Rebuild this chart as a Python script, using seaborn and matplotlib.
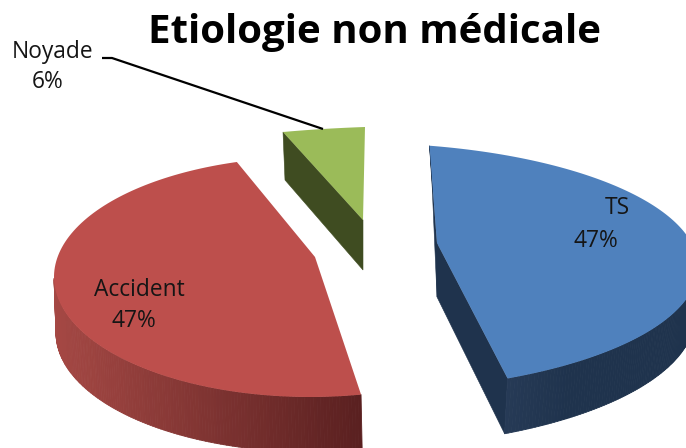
import numpy as np
import matplotlib
matplotlib.use("Agg")
import matplotlib.pyplot as plt
from matplotlib.collections import PolyCollection
from matplotlib.path import Path
from matplotlib.transforms import Transform
import seaborn as sns

title = "Etiologie non médicale"
labels = ["TS", "Accident", "Noyade"]
values = [47, 47, 6]
face_colors = ["#4f81bd", "#bd4f4c", "#9bbb59"]
wall_light = ["#263a56", "#a54844", "#3f4c21"]
wall_dark = ["#1f334d", "#5a2020", "#3f4c21"]

# Perspective layout in image pixels: apex and the ellipse each rim lies on
# (cx, cy, a, b, first angle, last angle)
top_apex = [(437, 243), (315, 257), (363, 220)]
bottom_apex = [(437, 297), (316, 312), (363, 270)]
top_rim = [(359, 267, 339, 124, -64, 78), (310, 277, 256, 120, 106.6, 281.5), None]
bottom_rim = [(356, 316, 339, 131, -64, 77), (312, 333, 256, 119, 106.6, 281.3), None]
top_small = [None, None, [(365, 127), (323, 129), (283, 132)]]
bottom_small = [None, None, [(365, 177), (323, 178), (285, 180)]]
draw_outer = [True, True, False]
draw_sides = [(True, True), (False, False), (False, True)]
name_pos = [(617, 208), (139, 290), (53, 52)]
pct_pos = [(596, 241), (134, 321), (48, 82)]
leader = ([102, 112, 323], [58, 58, 129])


class Homography(Transform):
    input_dims = output_dims = 2
    is_affine = False
    has_inverse = False

    def __init__(self, src, dst, apex):
        super().__init__()
        self.apex = apex
        A, b = [], []
        for (x, y), (u, v) in zip(src, dst):
            A.append([x, y, 1, 0, 0, 0, -u * x, -u * y])
            A.append([0, 0, 0, x, y, 1, -v * x, -v * y])
            b += [u, v]
        self.m = np.append(np.linalg.solve(np.array(A, float), np.array(b, float)), 1).reshape(3, 3)

    def transform_non_affine(self, values):
        values = np.asarray(values, float)
        p = np.column_stack([values, np.ones(len(values))]) @ self.m.T
        out = p[:, :2] / p[:, 2:]
        out[np.hypot(values[:, 0], values[:, 1]) < 1e-9] = self.apex
        return out

    def transform_path_non_affine(self, path):
        # Flatten the pie's curves first, so the rim stays on its ellipse
        poly = Path(path.vertices * 1000, path.codes).to_polygons(closed_only=False)[0] / 1000
        return Path(self.transform_non_affine(poly))


def unit(deg):
    r = np.radians(deg)
    return np.column_stack([np.cos(r), np.sin(r)])


def projection(t1, t2, rim, small, apex):
    if rim is None:
        src = np.vstack([[0, 0], unit(np.linspace(t1, t2, 3))])
        return Homography(src, [apex] + small, apex)
    cx, cy, a, b, p1, p2 = rim
    ts = np.linspace(t1, t2, 4)
    pm, ph = (p1 + p2) / 2, (p2 - p1) / 2
    tm, th = (t1 + t2) / 2, (t2 - t1) / 2
    k = np.tan(np.radians(ph / 2)) / np.tan(np.radians(th / 2))
    phi = pm + 2 * np.degrees(np.arctan(k * np.tan(np.radians(ts - tm) / 2)))
    r = np.radians(phi)
    dst = np.column_stack([cx + a * np.cos(r), cy - b * np.sin(r)])
    return Homography(unit(ts), dst, apex)


sns.set_theme(style="white")
plt.rcParams["font.family"] = ["Open Sans", "DejaVu Sans"]

fig = plt.figure(figsize=(6.86, 4.48), dpi=100, facecolor="white")
ax = fig.add_axes([0, 0, 1, 1])
wedges, _ = ax.pie(values, startangle=90, counterclock=False, colors=face_colors,
                   wedgeprops={"linewidth": 0, "zorder": 5})
ax.set_aspect("auto")
ax.set_xlim(0, 686)
ax.set_ylim(448, 0)
ax.axis("off")

for i, w in enumerate(wedges):
    t1, t2 = w.theta1, w.theta2
    top = projection(t1, t2, top_rim[i], top_small[i], top_apex[i])
    bot = projection(t1, t2, bottom_rim[i], bottom_small[i], bottom_apex[i])
    w.set_transform(top + ax.transData)

    if draw_outer[i]:
        ts = np.linspace(t1, t2, 241)
        a, b = top.transform(unit(ts)), bot.transform(unit(ts))
        xs = a[:-1, 0]
        frac = (xs - xs.min()) / (xs.max() - xs.min())
        pal = sns.blend_palette([wall_light[i], wall_dark[i]], 64)
        if i == 0:
            frac = np.clip((xs - xs[0]) / 60, 0, 1)
        # Only the front of the rim shows a wall
        front = [k for k in range(len(ts) - 1) if a[k, 1] >= top_rim[i][1]]
        cols = [pal[int(round(frac[k] * 63))] for k in front]
        quads = [[a[k], a[k + 1], b[k + 1], b[k]] for k in front]
        ax.add_collection(PolyCollection(quads, facecolors=cols, edgecolors=cols,
                                         linewidths=0.6, zorder=3))

    apex_t, apex_b = np.array([top_apex[i]]), np.array([bottom_apex[i]])
    for flag, ang in zip(draw_sides[i], (t1, t2)):
        if flag:
            e_t, e_b = top.transform(unit([ang])), bot.transform(unit([ang]))
            ax.fill(*np.vstack([apex_t, e_t, e_b, apex_b]).T, color=wall_dark[i], lw=0.4, zorder=2)

total = sum(values)
for lab, v, np_, pp in zip(labels, values, name_pos, pct_pos):
    ax.text(np_[0], np_[1], lab, ha="center", va="center", fontsize=16.4, color="#151515", zorder=8)
    ax.text(pp[0], pp[1], f"{round(100 * v / total)}%", ha="center", va="center",
            fontsize=16.4, color="#151515", zorder=8)

ax.plot(*leader, color="black", lw=1.6, zorder=7, solid_capstyle="butt")
ax.text(375, 33, title, ha="center", va="center", fontsize=29, fontweight="bold",
        color="black", zorder=8)

fig.savefig("out.png", dpi=100)
